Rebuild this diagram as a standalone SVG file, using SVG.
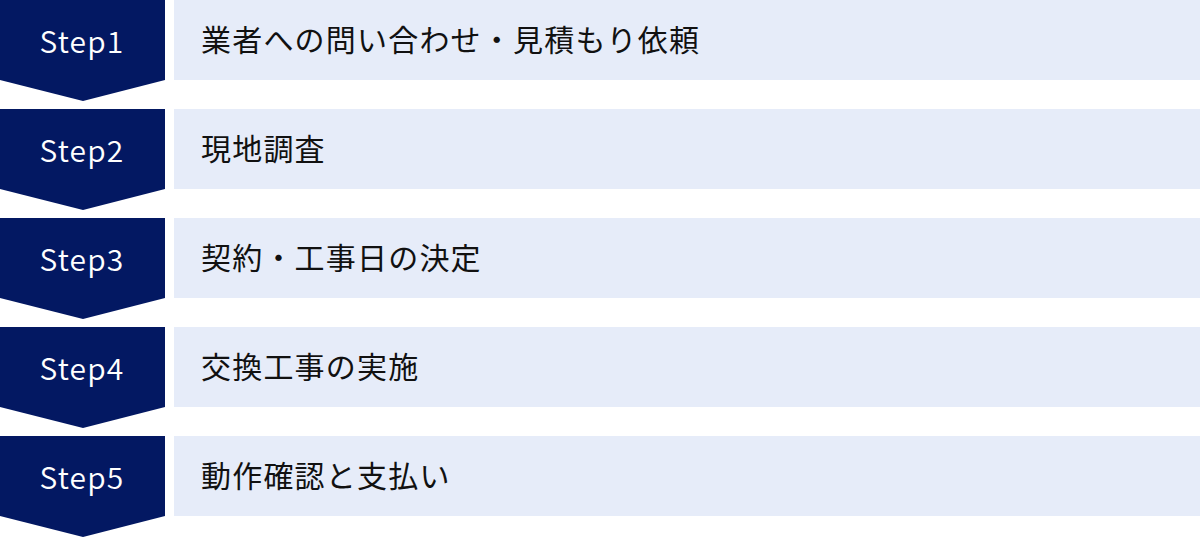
<svg xmlns="http://www.w3.org/2000/svg" width="1200" height="538" viewBox="0 0 1200 538">
<style>
.step{fill:#031862}
.bar{fill:#E6ECF9}
.st{font-family:"Noto Sans CJK JP","Noto Sans",sans-serif;font-size:30px;font-weight:350;fill:#ffffff;letter-spacing:1.2px;text-anchor:middle}
.lb{font-family:"Noto Sans CJK JP",sans-serif;font-size:30px;fill:#111111;letter-spacing:1.2px}
</style>
<rect width="1200" height="538" fill="#ffffff"/>
<g id="step1">
<path class="step" d="M0 0H165V80L83 101L0 80Z"/>
<rect class="bar" x="174" y="0" width="1026" height="80"/>
<text class="st" x="82" y="53">Step1</text>
<text class="lb" x="201" y="51">業者への問い合わせ・見積もり依頼</text>
</g>
<g id="step2">
<path class="step" d="M0 109H165V189L83 210L0 189Z"/>
<rect class="bar" x="174" y="109" width="1026" height="80"/>
<text class="st" x="82" y="162">Step2</text>
<text class="lb" x="201" y="160">現地調査</text>
</g>
<g id="step3">
<path class="step" d="M0 218H165V298L83 319L0 298Z"/>
<rect class="bar" x="174" y="218" width="1026" height="80"/>
<text class="st" x="82" y="271">Step3</text>
<text class="lb" x="201" y="269">契約・工事日の決定</text>
</g>
<g id="step4">
<path class="step" d="M0 327H165V407L83 428L0 407Z"/>
<rect class="bar" x="174" y="327" width="1026" height="80"/>
<text class="st" x="82" y="380">Step4</text>
<text class="lb" x="201" y="378">交換工事の実施</text>
</g>
<g id="step5">
<path class="step" d="M0 436H165V516L83 537L0 516Z"/>
<rect class="bar" x="174" y="436" width="1026" height="80"/>
<text class="st" x="82" y="489">Step5</text>
<text class="lb" x="201" y="487">動作確認と支払い</text>
</g>
<g id="connectors"></g>
</svg>
